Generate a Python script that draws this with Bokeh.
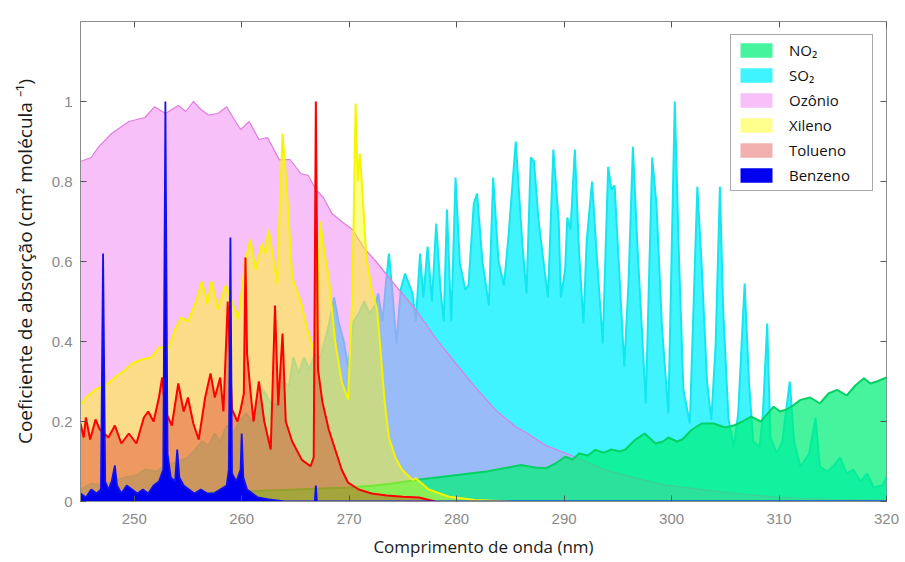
from bokeh.plotting import figure
from bokeh.models import (ColumnDataSource, Range1d, LinearAxis, SingleIntervalTicker,
                          NumeralTickFormatter, Legend, LegendItem)
from bokeh.embed import file_html
from bokeh.resources import INLINE

# ---------------- data ----------------
ozone_x = [245.0, 246.0, 246.7, 247.9, 249.5, 251.0, 251.9, 252.9, 254.1, 254.8, 255.5, 256.2,
           256.9, 257.8, 258.6, 259.2, 259.9, 260.7, 261.6, 262.4, 263.5, 264.5, 265.5, 266.2,
           266.9, 267.6, 268.4, 269.3, 270.3, 271.5, 272.5, 274.3, 276.2, 278.0, 279.9, 281.7,
           283.6, 285.5, 286.6, 288.3, 291.0, 293.8, 296.6, 299.4, 303.1, 306.0, 310.0, 315.0, 320.0]
ozone_y = [0.85, 0.86, 0.887, 0.92, 0.95, 0.96, 0.987, 0.97, 0.99, 0.975, 1.0, 0.98,
           0.966, 0.97, 0.987, 0.96, 0.93, 0.95, 0.905, 0.91, 0.854, 0.855, 0.82, 0.815,
           0.78, 0.76, 0.72, 0.70, 0.68, 0.63, 0.60, 0.54, 0.48, 0.41, 0.346, 0.287,
           0.229, 0.187, 0.17, 0.14, 0.112, 0.079, 0.059, 0.041, 0.029, 0.02, 0.01, 0.005, 0.003]

so2_x = [245.0, 246.0, 247.0, 248.0, 249.2, 250.2, 251.0, 252.0, 253.0, 254.1, 255.0, 255.7,
         256.3, 256.9, 257.5, 258.0, 258.6, 259.2, 259.8, 260.4, 261.0, 261.5, 262.0, 262.6,
         263.2, 263.8, 264.4, 264.8, 265.3, 265.8, 266.3, 266.8, 267.3, 267.7, 268.1, 268.6,
         269.0, 269.5, 269.9, 270.4, 270.9, 271.4, 271.9, 272.4, 272.7, 273.1, 273.4, 273.7,
         274.0, 274.4, 274.8, 275.2, 275.9, 276.2, 276.6, 276.9, 277.3, 277.7, 278.1, 278.5,
         278.8, 279.1, 279.5, 279.9, 280.3, 280.8, 281.1, 281.6, 281.9, 282.4, 283.0, 283.4,
         283.9, 284.4, 284.8, 285.5, 286.1, 286.5, 286.9, 287.2, 287.6, 287.9, 288.5, 289.0,
         289.5, 289.7, 290.1, 290.3, 290.6, 291.0, 291.4, 291.8, 292.1, 292.6, 293.1, 293.6,
         294.1, 294.4, 294.7, 295.1, 295.6, 296.0, 296.4, 296.8, 297.3, 297.6, 298.2, 298.6,
         299.1, 299.7, 300.3, 300.7, 301.1, 301.7, 302.4, 302.8, 303.3, 303.7, 304.1, 304.5,
         304.8, 305.3, 305.8, 306.2, 306.8, 307.2, 307.6, 308.2, 308.5, 308.9, 309.2, 309.8,
         310.3, 311.0, 311.4, 312.0, 312.8, 313.4, 313.8, 314.5, 315.1, 315.7, 316.3, 316.9,
         317.6, 318.2, 318.8, 319.6, 320.0]
so2_y = [0.03, 0.045, 0.04, 0.05, 0.06, 0.065, 0.08, 0.075, 0.09, 0.10, 0.11, 0.13,
         0.15, 0.14, 0.17, 0.15, 0.19, 0.17, 0.20, 0.22, 0.20, 0.24, 0.28, 0.25,
         0.24, 0.30, 0.29, 0.36, 0.32, 0.36, 0.33, 0.37, 0.36, 0.40, 0.44, 0.51,
         0.45, 0.40, 0.337, 0.45, 0.47, 0.50, 0.47, 0.49, 0.52, 0.45, 0.54, 0.62,
         0.53, 0.395, 0.53, 0.57, 0.52, 0.45, 0.62, 0.51, 0.637, 0.50, 0.695, 0.53,
         0.45, 0.73, 0.45, 0.81, 0.595, 0.53, 0.54, 0.745, 0.77, 0.60, 0.49, 0.81,
         0.60, 0.54, 0.654, 0.90, 0.65, 0.52, 0.86, 0.85, 0.71, 0.64, 0.51, 0.88,
         0.70, 0.51, 0.58, 0.71, 0.68, 0.88, 0.62, 0.445, 0.65, 0.80, 0.59, 0.395,
         0.837, 0.78, 0.79, 0.59, 0.337, 0.55, 0.887, 0.65, 0.40, 0.245, 0.86, 0.74,
         0.44, 0.22, 1.0, 0.60, 0.28, 0.195, 0.787, 0.59, 0.30, 0.204, 0.39, 0.787,
         0.48, 0.205, 0.137, 0.22, 0.545, 0.30, 0.15, 0.137, 0.22, 0.445, 0.16, 0.12,
         0.15, 0.30, 0.15, 0.087, 0.12, 0.21, 0.087, 0.075, 0.09, 0.11, 0.07, 0.08,
         0.05, 0.07, 0.035, 0.04, 0.06]

no2_x = [245.0, 250.0, 255.0, 260.0, 265.0, 270.0, 272.4, 274.0, 276.2, 278.7, 281.2, 282.8,
         284.4, 286.0, 287.3, 288.3, 289.2, 290.1, 290.8, 291.4, 292.2, 292.9, 293.7, 294.4,
         295.2, 295.7, 296.6, 297.5, 298.5, 299.2, 299.7, 300.5, 301.0, 301.9, 302.8, 303.9,
         305.0, 305.8, 306.6, 307.4, 308.3, 309.5, 310.1, 310.7, 311.3, 312.0, 312.9, 313.8,
         314.6, 315.4, 316.3, 317.1, 317.9, 318.5, 319.1, 320.0]
no2_y = [0.01, 0.015, 0.02, 0.025, 0.03, 0.035, 0.04, 0.045, 0.054, 0.062, 0.07, 0.075,
         0.083, 0.091, 0.085, 0.083, 0.095, 0.112, 0.105, 0.12, 0.115, 0.129, 0.122, 0.13,
         0.125, 0.13, 0.154, 0.17, 0.145, 0.15, 0.16, 0.15, 0.155, 0.18, 0.195, 0.195,
         0.185, 0.19, 0.20, 0.212, 0.20, 0.237, 0.225, 0.23, 0.24, 0.254, 0.26, 0.245,
         0.27, 0.279, 0.265, 0.29, 0.308, 0.295, 0.30, 0.31]

xyl_x = [245.0, 245.5, 246.4, 247.3, 248.2, 249.2, 249.8, 250.7, 251.6, 252.3, 253.2, 253.8,
         254.4, 255.0, 255.7, 256.3, 256.8, 257.2, 257.8, 258.5, 259.1, 259.7, 260.3, 260.8,
         261.3, 261.9, 262.2, 262.5, 263.0, 263.3, 263.8, 264.2, 264.7, 265.5, 266.1, 266.7,
         267.0, 267.3, 267.7, 268.1, 268.7, 269.3, 269.9, 270.3, 270.6, 270.8, 271.0, 271.4,
         271.6, 272.1, 272.6, 273.0, 273.3, 273.7, 274.3, 274.9, 275.9, 276.2, 277.4, 279.3,
         281.7, 285.0]
xyl_y = [0.24, 0.26, 0.28, 0.29, 0.31, 0.33, 0.345, 0.355, 0.36, 0.385, 0.385, 0.43,
         0.46, 0.45, 0.495, 0.55, 0.495, 0.55, 0.48, 0.54, 0.50, 0.455, 0.595, 0.655,
         0.58, 0.645, 0.62, 0.68, 0.60, 0.545, 0.92, 0.78, 0.56, 0.50, 0.43, 0.38,
         0.45, 0.70, 0.62, 0.56, 0.40, 0.30, 0.255, 0.52, 0.995, 0.80, 0.87, 0.70,
         0.61, 0.53, 0.48, 0.35, 0.25, 0.16, 0.11, 0.08, 0.054, 0.058, 0.03, 0.012,
         0.004, 0.0]

tol_x = [245.0, 245.3, 245.5, 245.9, 246.4, 246.8, 247.6, 248.2, 248.8, 249.5, 250.2, 250.9,
         251.3, 251.8, 252.3, 252.6, 252.9, 253.5, 254.1, 254.6, 255.0, 255.5, 256.0, 256.6,
         257.1, 257.5, 258.0, 258.3, 258.7, 259.1, 259.6, 259.9, 260.2, 260.35, 260.5, 260.8,
         261.1, 261.6, 262.1, 262.7, 263.1, 263.4, 263.8, 264.1, 264.7, 265.6, 266.4, 266.7,
         266.9, 267.1, 267.5, 268.1, 268.7, 269.3, 269.9, 270.9, 272.1, 273.5, 275.0, 276.5,
         278.0]
tol_y = [0.195, 0.16, 0.21, 0.155, 0.205, 0.18, 0.16, 0.19, 0.145, 0.17, 0.145, 0.21,
         0.225, 0.20, 0.26, 0.31, 0.225, 0.19, 0.295, 0.225, 0.26, 0.195, 0.155, 0.26,
         0.32, 0.26, 0.31, 0.225, 0.50, 0.23, 0.20, 0.23, 0.27, 0.61, 0.37, 0.28,
         0.20, 0.30, 0.20, 0.13, 0.49, 0.24, 0.42, 0.20, 0.15, 0.104, 0.088, 0.11,
         1.0, 0.33, 0.25, 0.18, 0.13, 0.08, 0.047, 0.03, 0.02, 0.015, 0.012, 0.01,
         0.0]

ben_x = [245.0, 245.5, 246.0, 246.5, 246.9, 247.1, 247.3, 247.6, 247.9, 248.2, 248.4, 248.8,
         249.3, 249.8, 250.3, 250.8, 251.3, 251.8, 252.3, 252.7, 252.9, 253.1, 253.4, 253.8,
         254.0, 254.2, 254.6, 255.1, 255.6, 256.2, 256.8, 257.4, 258.0, 258.6, 258.8, 258.95,
         259.1, 259.5, 259.9, 260.0, 260.15, 260.5, 261.0, 261.5, 262.5, 264.0, 266.8, 266.9,
         267.0, 320.0]
ben_y = [0.02, 0.01, 0.03, 0.02, 0.03, 0.62, 0.05, 0.03, 0.05, 0.09, 0.04, 0.02,
         0.04, 0.03, 0.02, 0.03, 0.02, 0.04, 0.05, 0.08, 1.0, 0.12, 0.06, 0.05,
         0.13, 0.06, 0.04, 0.03, 0.02, 0.03, 0.02, 0.02, 0.03, 0.04, 0.08, 0.66,
         0.07, 0.05, 0.08, 0.17, 0.06, 0.03, 0.02, 0.01, 0.005, 0.0, 0.0, 0.04,
         0.0, 0.0]

legend_labels = {"NO2": "NO₂", "SO2": "SO₂", "O3": "Ozônio",
                 "XYL": "Xileno", "TOL": "Tolueno", "BEN": "Benzeno"}
legend_order = ["NO2", "SO2", "O3", "XYL", "TOL", "BEN"]

x_ticks_interval = 10
y_ticks_interval = 0.2

# ---------------- figure ----------------
p = figure(width=905, height=562, output_backend="svg", toolbar_location=None,
           x_range=Range1d(245, 320), y_range=Range1d(0, 1.2),
           min_border_left=80, min_border_right=19, min_border_top=21, min_border_bottom=61)
p.grid.visible = False
p.background_fill_color = "white"
p.border_fill_color = "white"
p.outline_line_color = "#8c8c8c"
p.outline_line_width = 1

series = [
    # name, x, y, fill color, fill alpha, line color, line width
    ("SO2", so2_x, so2_y, "#00f0ff", 0.75, "#14e6f0", 2.0),
    ("O3", ozone_x, ozone_y, "#f282f2", 0.5, "#e07ce0", 1.2),
    ("NO2", no2_x, no2_y, "#00f078", 0.72, "#00d264", 2.0),
    ("XYL", xyl_x, xyl_y, "#ffff00", 0.45, "#f5f500", 2.0),
    ("TOL", tol_x, tol_y, "#d71e14", 0.35, "#ff0000", 2.0),
    ("BEN", ben_x, ben_y, "#0000f0", 1.0, "#1010f0", 1.8),
]
area_renderers = {}
for name, xs, ys, fc, fa, lc, lw in series:
    src = ColumnDataSource(dict(x=xs, y=ys))
    area_renderers[name] = p.varea(x="x", y1=0, y2="y", source=src, fill_color=fc, fill_alpha=fa)
    p.line(x="x", y="y", source=src, line_color=lc, line_width=lw)

# ---------------- axes ----------------
xt = SingleIntervalTicker(interval=x_ticks_interval, num_minor_ticks=0)
yt = SingleIntervalTicker(interval=y_ticks_interval, num_minor_ticks=0)
for ax in p.xaxis:
    ax.ticker = xt
for ax in p.yaxis:
    ax.ticker = yt
    ax.formatter = NumeralTickFormatter(format="0.[0]")

for ax in list(p.xaxis) + list(p.yaxis):
    ax.major_tick_in = 6
    ax.major_tick_out = 0
    ax.minor_tick_in = 0
    ax.minor_tick_out = 0
    ax.major_tick_line_color = "#555555"
    ax.axis_line_color = "#8c8c8c"
    ax.major_label_text_font = "Liberation Sans"
    ax.major_label_text_font_size = "15px"
    ax.major_label_text_color = "#8a8a8a"
    ax.axis_label_text_font = "Open Sans"
    ax.axis_label_text_font_style = "normal"
    ax.axis_label_text_color = "#1a1a1a"

p.xaxis.axis_label = "Comprimento de onda (nm)"
p.yaxis.axis_label = "Coeficiente de absorção (cm² molécula ⁻¹)"
p.xaxis.axis_label_text_font_size = "17px"
p.yaxis.axis_label_text_font_size = "19px"
p.xaxis.major_label_standoff = 12
p.xaxis.axis_label_standoff = 8
p.yaxis.major_label_standoff = 8
p.yaxis.axis_label_standoff = 11

for loc, tk in (("right", yt), ("above", xt)):
    ax = LinearAxis(ticker=tk, major_label_text_font_size="1px", major_label_text_color=None,
                    major_label_standoff=0,
                    major_tick_in=6, major_tick_out=0, minor_tick_in=0, minor_tick_out=0,
                    major_tick_line_color="#555555", axis_line_color=None)
    p.add_layout(ax, loc)

# ---------------- legend ----------------
items = [LegendItem(label=legend_labels[k], renderers=[area_renderers[k]]) for k in legend_order]
legend = Legend(items=items, location="top_right", margin=13, padding=5, spacing=5,
                glyph_width=40, glyph_height=18, label_height=18, label_width=78,
                label_standoff=13, label_text_font="Open Sans", label_text_font_size="15px",
                label_text_color="#111111", border_line_color="#555555", border_line_width=1.5,
                background_fill_color="white", background_fill_alpha=1.0)
p.add_layout(legend)

open("out.html", "w").write(file_html(p, INLINE))
